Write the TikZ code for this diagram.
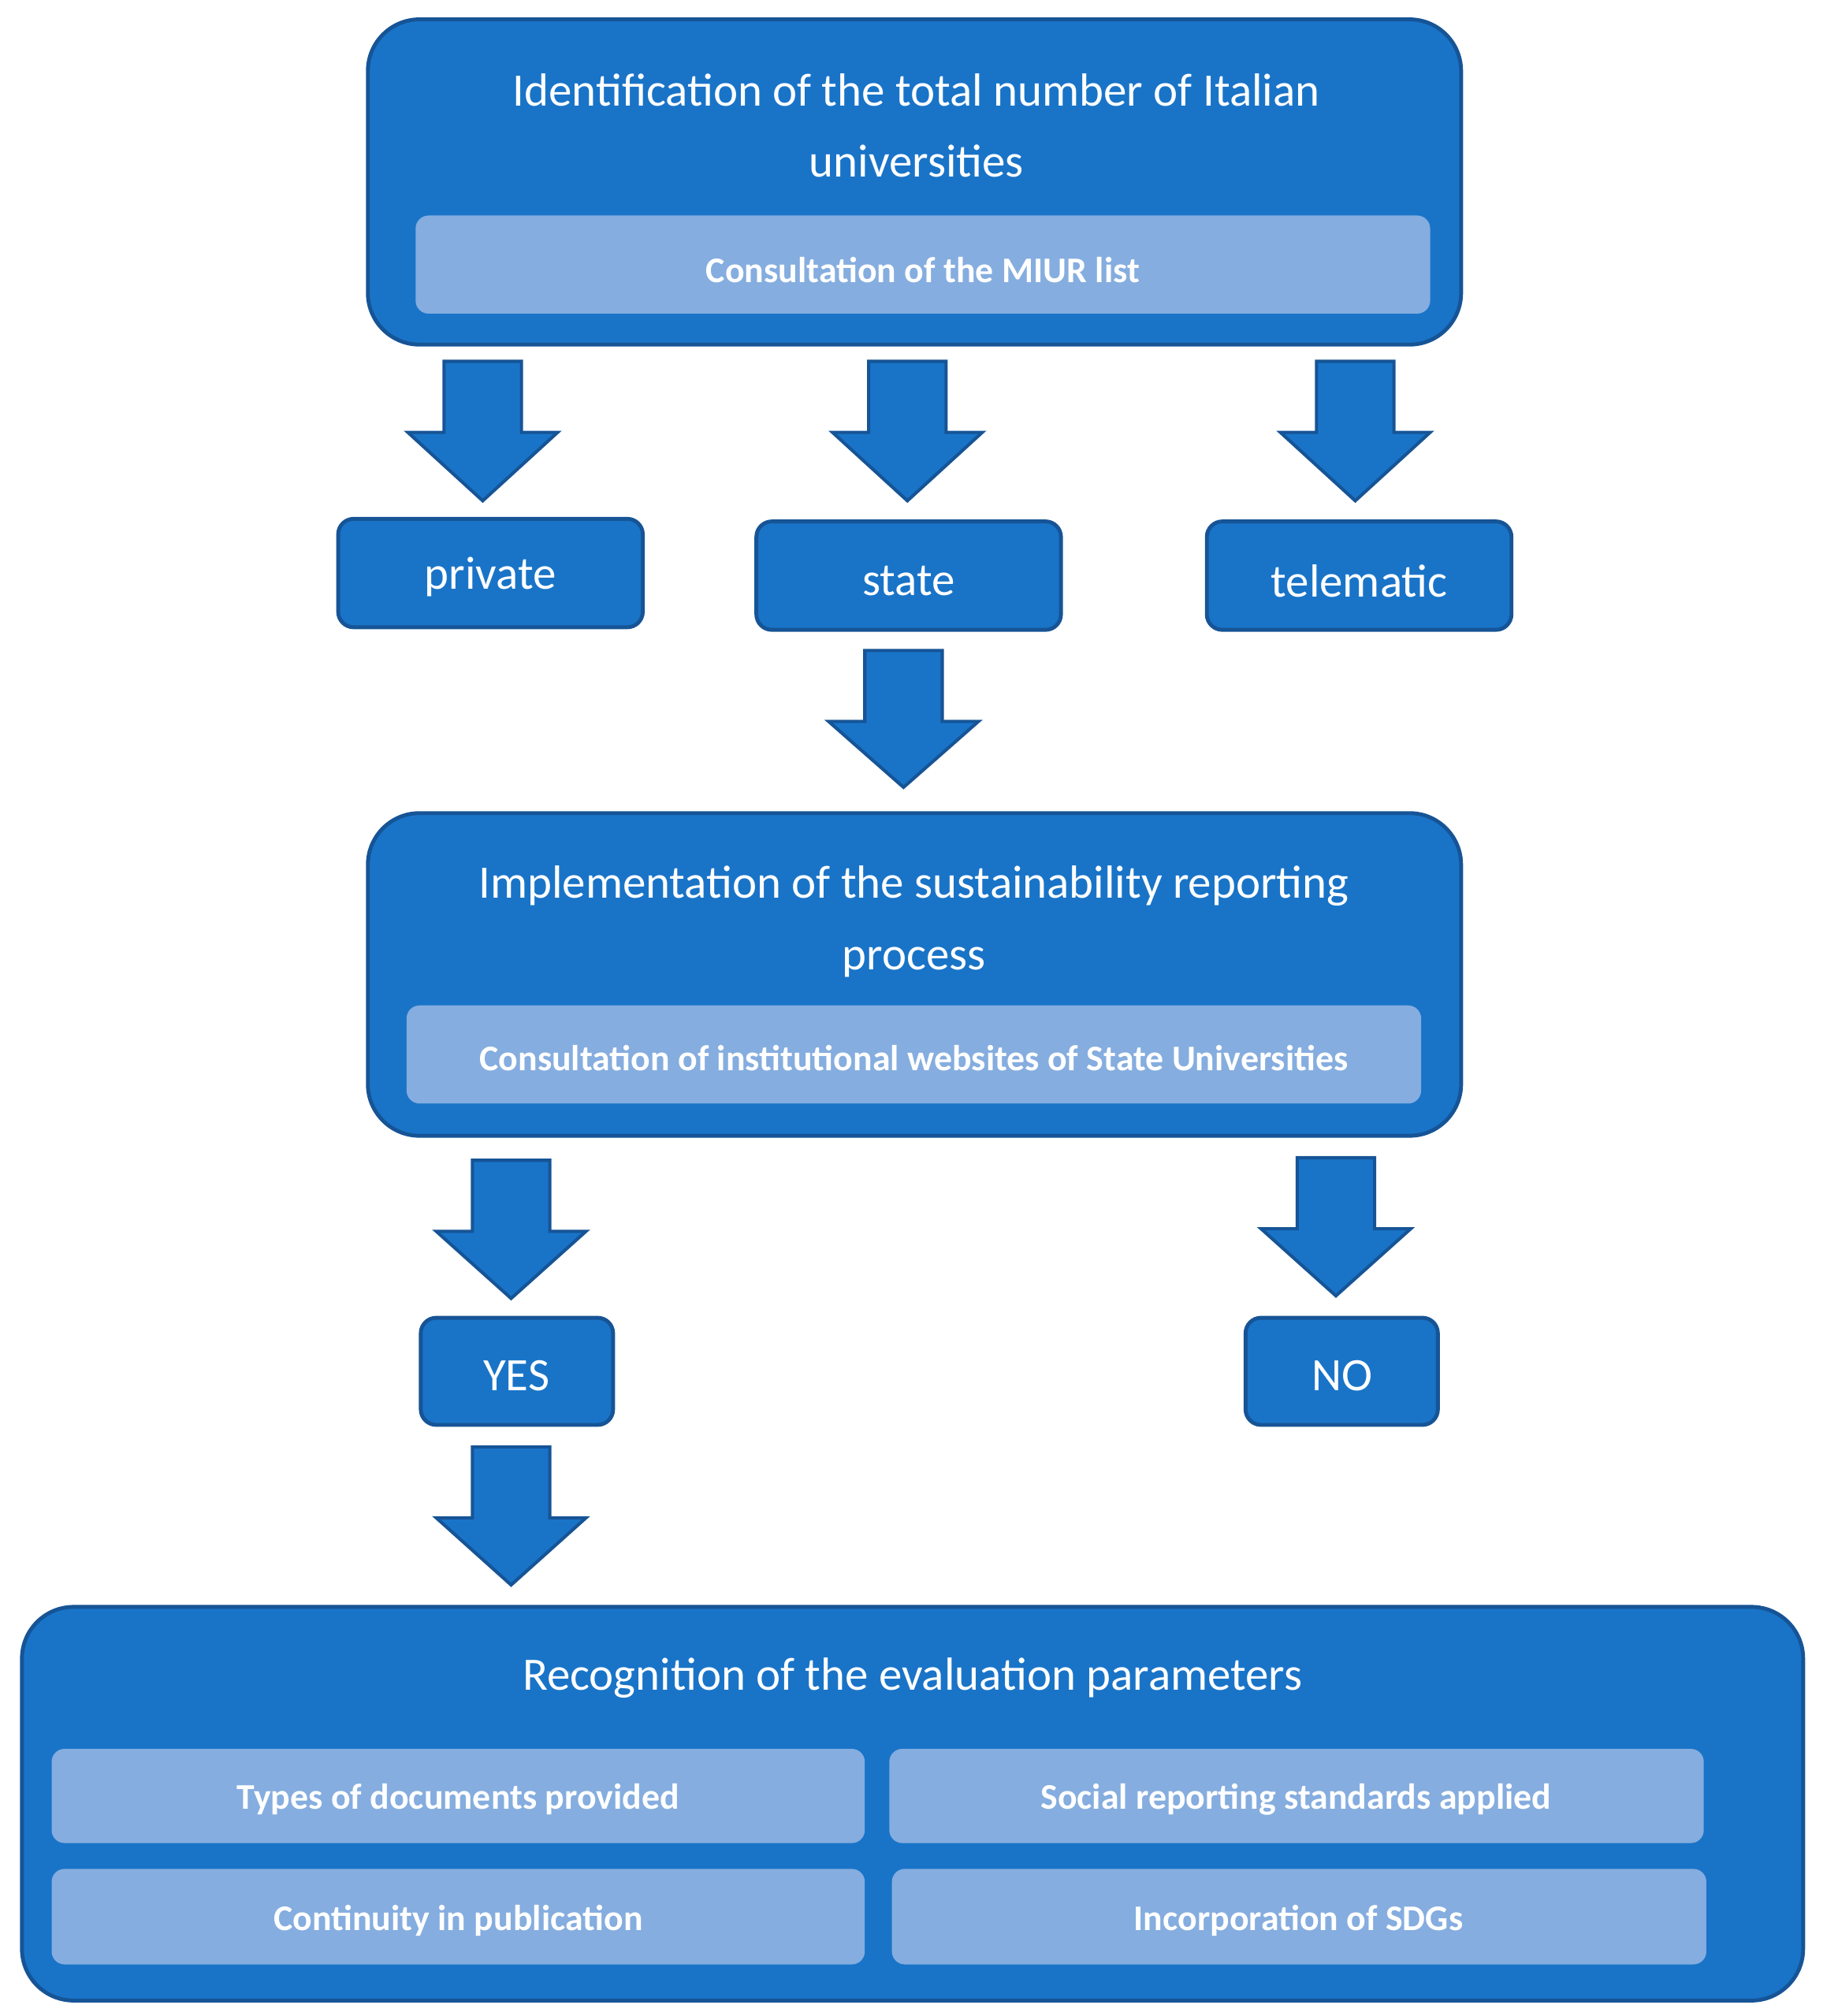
\documentclass[tikz,border=0pt]{standalone}
\usepackage{fontspec}
\setmainfont{Carlito}
\definecolor{mainblue}{RGB}{25,116,200}
\definecolor{edgeblue}{RGB}{22,84,150}
\definecolor{lightblue}{RGB}{133,173,223}
\newcommand\blockarrow[3]{%
  \draw[arr] (#1-30,#2) -- (#1+30,#2) -- (#1+30,#2+55) -- (#1+58,#2+55) -- (#1,#3) -- (#1-58,#2+55) -- (#1-30,#2+55) -- cycle;}
\begin{document}
\begin{tikzpicture}[x=1pt,y=-1pt,
  big/.style={draw=edgeblue,line width=3pt,fill=mainblue,rounded corners=40pt},
  small/.style={draw=edgeblue,line width=3pt,fill=mainblue,rounded corners=12pt},
  inner/.style={fill=lightblue,rounded corners=10pt},
  arr/.style={draw=edgeblue,line width=2.5pt,fill=mainblue,line join=miter},
  tt/.style={text=white,font=\fontsize{36}{55}\selectfont,align=center},
  st/.style={text=white,font=\bfseries\fontsize{28}{34}\selectfont}]
\useasboundingbox (0,0) rectangle (1412,1562);
% box 1
\draw[big] (285,15) rectangle (1132,267);
\node[tt] (t1) at (710,97) {Identification of the total number of Italian\\universities};
\fill[inner] (322,167) rectangle (1108,243);
\node[st] (s1) at (715,209) {Consultation of the MIUR list};
\blockarrow{374}{280}{388}
\blockarrow{703}{280}{388}
\blockarrow{1050}{280}{388}
\draw[small] (262,402) rectangle (498,486); \node[tt] (priv) at (380,447) {private};
\draw[small] (586,404) rectangle (822,488); \node[tt] (state) at (704,450) {state};
\draw[small] (935,404) rectangle (1171,488); \node[tt] (tel) at (1053,450) {telematic};
\blockarrow{700}{504}{610}
% box 2
\draw[big] (285,630) rectangle (1132,880);
\node[tt] (t2) at (708,714) {Implementation of the sustainability reporting\\process};
\fill[inner] (315,779) rectangle (1101,855);
\node[st] (s2) at (708,820) {Consultation of institutional websites of State Universities};
\blockarrow{396}{899}{1006}
\blockarrow{1035}{897}{1004}
\draw[small] (326,1021) rectangle (475,1104); \node[tt] (yes) at (400,1066) {YES};
\draw[small] (965,1021) rectangle (1114,1104); \node[tt] (no) at (1040,1066) {NO};
\blockarrow{396}{1121}{1228}
% box 3
\draw[big] (17,1245) rectangle (1397,1550);
\node[tt] (t3) at (707,1300) {Recognition of the evaluation parameters};
\fill[inner] (40,1355) rectangle (670,1428);
\fill[inner] (689,1355) rectangle (1320,1428);
\fill[inner] (40,1448) rectangle (670,1522);
\fill[inner] (691,1448) rectangle (1322,1522);
\node[st] (p1) at (355,1394) {Types of documents provided};
\node[st] (p2) at (1004,1394) {Social reporting standards applied};
\node[st] (p3) at (355,1488) {Continuity in publication};
\node[st] (p4) at (1006,1488) {Incorporation of SDGs};
\end{tikzpicture}
\end{document}
